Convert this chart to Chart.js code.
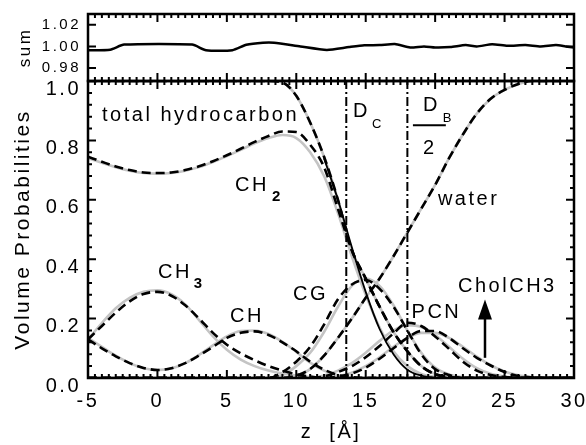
<!DOCTYPE html>
<html>
<head>
<meta charset="utf-8">
<script src="https://cdn.jsdelivr.net/npm/chart.js@4.4.1/dist/chart.umd.min.js"></script>
<style>
  html, body { margin: 0; padding: 0; background: #fff; }
  #wrap { position: relative; width: 586px; height: 445px; }
  #wrap canvas { position: absolute; left: 0; top: 0; }
</style>
</head>
<body>
<div id="wrap">
  <canvas id="sum_Chart" width="586" height="90"></canvas>
  <canvas id="prob_Chart" width="586" height="445"></canvas>
</div>
<script>
// z grid [Å], one value per curve at each z
const zGrid = [-5,-4,-3,-2,-1,0,1,2,3,4,5,6,7,8,9,10,11,12,13,14,15,16,17,18,19,20,21,22,23,24,25,26,27,28,29,30];

// simulation (dashed)
const totalHC = [1,1,1,1,1,1,1,1,1,1,1,1,1,1,0.995,0.95,0.86,0.745,0.6,0.43,0.335,0.24,0.155,0.09,0.04,0.013,0.003,0,0,0,0,0,0,0,0,0];
const ch2     = [0.745,0.728,0.712,0.70,0.692,0.69,0.692,0.70,0.713,0.73,0.75,0.772,0.795,0.815,0.83,0.828,0.785,0.71,0.57,0.43,0.335,0.24,0.155,0.09,0.04,0.013,0.003,0,0,0,0,0,0,0,0,0];
const ch3     = [0.13,0.175,0.22,0.258,0.283,0.29,0.277,0.245,0.2,0.152,0.112,0.083,0.06,0.04,0.025,0.012,0.005,0,0,0,0,0,0,0,0,0,0,0,0,0,0,0,0,0,0,0];
const ch      = [0.13,0.10,0.073,0.05,0.034,0.027,0.033,0.05,0.076,0.105,0.135,0.152,0.157,0.145,0.12,0.09,0.055,0.028,0.01,0.003,0,0,0,0,0,0,0,0,0,0,0,0,0,0,0,0];
const cg      = [0,0,0,0,0,0,0,0,0,0,0,0,0,0,0.02,0.055,0.105,0.18,0.265,0.315,0.33,0.30,0.24,0.16,0.08,0.03,0.01,0,0,0,0,0,0,0,0,0];
const water   = [0,0,0,0,0,0,0,0,0,0,0,0,0,0,0,0.008,0.03,0.075,0.135,0.2,0.27,0.335,0.41,0.49,0.57,0.65,0.74,0.82,0.89,0.94,0.97,0.99,1,1,1,1];
const pcn     = [0,0,0,0,0,0,0,0,0,0,0,0,0,0,0,0,0,0.005,0.02,0.04,0.07,0.108,0.15,0.186,0.175,0.14,0.098,0.055,0.025,0.01,0.003,0,0,0,0,0];
const cholCH3 = [0,0,0,0,0,0,0,0,0,0,0,0,0,0,0,0,0,0,0.005,0.015,0.035,0.065,0.1,0.135,0.158,0.158,0.135,0.1,0.068,0.042,0.02,0.007,0.002,0,0,0];

// model (grey solid) and hydrocarbon fit (thin black)
const ch3Fit  = [0.13,0.185,0.235,0.27,0.29,0.295,0.282,0.248,0.195,0.14,0.095,0.062,0.04,0.025,0.015,0.008,0.003,0,0,0,0,0,0,0,0,0,0,0,0,0,0,0,0,0,0,0];
const chFit   = [0.135,0.105,0.075,0.05,0.033,0.027,0.032,0.05,0.078,0.11,0.14,0.158,0.16,0.148,0.122,0.088,0.052,0.025,0.009,0.002,0,0,0,0,0,0,0,0,0,0,0,0,0,0,0,0];
const ch2Fit  = [0.74,0.725,0.71,0.698,0.69,0.688,0.69,0.698,0.71,0.727,0.747,0.768,0.79,0.808,0.818,0.808,0.76,0.68,0.555,0.41,0.28,0.17,0.09,0.04,0.014,0.004,0,0,0,0,0,0,0,0,0,0];
const cgFit   = [0,0,0,0,0,0,0,0,0,0,0,0,0,0,0.01,0.04,0.085,0.155,0.24,0.31,0.335,0.31,0.245,0.16,0.085,0.035,0.012,0.003,0,0,0,0,0,0,0,0];
const pcnFit  = [0,0,0,0,0,0,0,0,0,0,0,0,0,0,0,0,0,0.008,0.025,0.05,0.085,0.125,0.16,0.178,0.172,0.145,0.105,0.065,0.033,0.014,0.005,0.001,0,0,0,0];
const cholFit = [0,0,0,0,0,0,0,0,0,0,0,0,0,0,0,0,0,0,0.006,0.018,0.04,0.07,0.105,0.135,0.152,0.152,0.135,0.105,0.072,0.043,0.022,0.009,0.003,0,0,0];
const hcFit   = [null,null,null,null,null,null,null,null,null,null,null,null,null,null,null,null,null,0.74,0.6,0.44,0.29,0.165,0.08,0.028,0.008,0.001,0,0,null,null,null,null,null,null,null,null];

// boundaries D_C and D_B/2
const dcZ = 13.6;
const dbHalfZ = 18;

// sum panel
const sumZ   = [-5,-3.4,-2.4,2.5,3.5,5.4,6.4,7.6,8.4,10.3,12.2,13.8,14.9,16,17.1,18.2,19.2,20,21.1,22.2,23,24.1,25.2,26.5,27.6,28.7,29.4,30];
const sumVal = [0.9965,0.997,1.0017,1.0017,0.9965,0.9965,1.0015,1.0035,1.0035,1.0,0.9968,0.9994,1.001,1.0012,1.0022,0.999,1.0,0.999,0.9994,1.0012,1.0,1.002,1.0006,1.0012,1.0,1.0012,1.0,0.999];
const sumTicks = [0.98, 1.00, 1.02];

Chart.defaults.font.family = 'Arial, "Liberation Sans", sans-serif';
Chart.defaults.color = '#000';

const pts = arr => zGrid.map((z, i) => ({x: z, y: arr[i]}));
const SPACING = '2.5px';

// inside ticks on all four sides + frame
const insideTicks = {
    id: 'insideTicks',
    beforeUpdate(chart) { chart.ctx.letterSpacing = SPACING; },
    beforeDraw(chart) { chart.ctx.letterSpacing = SPACING; },
    afterDatasetsDraw(chart, args, opts) {
        const {ctx, chartArea: a, scales: {x, y}} = chart;
        ctx.save();
        ctx.strokeStyle = '#000';
        ctx.lineWidth = 2;
        ctx.beginPath();
        const nx = Math.round((x.max - x.min) / opts.xStep);
        for (let i = 0; i <= nx; i++) {
            const px = x.getPixelForValue(x.min + i * opts.xStep);
            const len = i % opts.xEvery === 0 ? 8 : 4;
            ctx.moveTo(px, a.top); ctx.lineTo(px, a.top + len);
            ctx.moveTo(px, a.bottom); ctx.lineTo(px, a.bottom - len);
        }
        for (let i = 0; i < opts.yCount; i++) {
            const py = y.getPixelForValue(opts.yFrom + i * opts.yStep);
            const len = i % opts.yEvery === 0 ? 8 : 4;
            ctx.moveTo(a.left, py); ctx.lineTo(a.left + len, py);
            ctx.moveTo(a.right, py); ctx.lineTo(a.right - len, py);
        }
        ctx.stroke();
        ctx.lineWidth = 2.5;
        ctx.strokeRect(a.left, a.top, a.right - a.left, a.bottom - a.top);
        ctx.restore();
    }
};

// text labels, boundary fraction and arrow
const annotations = {
    id: 'annotations',
    afterDraw(chart, args, opts) {
        const {ctx, scales: {x, y}} = chart;
        ctx.save();
        ctx.letterSpacing = SPACING;
        ctx.fillStyle = '#000';
        ctx.strokeStyle = '#000';
        ctx.textAlign = 'left';
        ctx.textBaseline = 'alphabetic';
        opts.labels.forEach(l => {
            const px = x.getPixelForValue(l.z);
            const py = y.getPixelForValue(l.v);
            ctx.font = '20px Arial, "Liberation Sans", sans-serif';
            ctx.fillText(l.text, px, py);
            if (l.sub) {
                const w = ctx.measureText(l.text).width;
                ctx.font = l.subFont;
                ctx.fillText(l.sub, px + w + l.subDx, py + l.subDy);
            }
        });
        // fraction bar of D_B / 2
        ctx.lineWidth = 2;
        ctx.beginPath();
        ctx.moveTo(x.getPixelForValue(opts.bar.z0), y.getPixelForValue(opts.bar.v));
        ctx.lineTo(x.getPixelForValue(opts.bar.z1), y.getPixelForValue(opts.bar.v));
        ctx.stroke();
        // arrow
        const ax = x.getPixelForValue(opts.arrow.z);
        const yBot = y.getPixelForValue(opts.arrow.v0);
        const yTip = y.getPixelForValue(opts.arrow.v1);
        ctx.lineWidth = 2.5;
        ctx.beginPath();
        ctx.moveTo(ax, yBot); ctx.lineTo(ax, yTip + 15);
        ctx.stroke();
        ctx.beginPath();
        ctx.moveTo(ax, yTip); ctx.lineTo(ax - 7, yTip + 20); ctx.lineTo(ax + 7, yTip + 20);
        ctx.closePath();
        ctx.fill();
        ctx.restore();
    }
};

// sum 패널
const ctxSum = document.getElementById('sum_Chart').getContext('2d');
new Chart(ctxSum, {
    type: 'line',
    data: {
        datasets: [{
            data: sumZ.map((z, i) => ({x: z, y: sumVal[i]})),
            borderColor: '#000',
            borderWidth: 2.5,
            pointRadius: 0,
            tension: 0.2,
        }]
    },
    options: {
        responsive: false,
        animation: false,
        devicePixelRatio: 1,
        layout: { padding: { top: 14, right: 12, bottom: 9, left: 0 } },
        plugins: {
            legend: { display: false },
            tooltip: { enabled: false },
            insideTicks: { xStep: 0.5, xEvery: 10, yFrom: 0.98, yStep: 0.02, yCount: 3, yEvery: 1 },
        },
        scales: {
            x: {
                type: 'linear', min: -5, max: 30,
                display: false,
            },
            y: {
                min: 0.968, max: 1.03,
                grid: { display: false, drawTicks: false },
                border: { display: false },
                afterBuildTicks: s => { s.ticks = sumTicks.map(v => ({value: v})); },
                afterFit: s => { s.width = 88; s.paddingTop = 0; s.paddingBottom = 0; },
                ticks: {
                    padding: 7,
                    font: { size: 15 },
                    callback: v => v.toFixed(2),
                },
                title: {
                    display: true,
                    text: 'sum',
                    font: { size: 17 },
                    padding: { top: 15, bottom: 0 },
                },
            },
        },
    },
    plugins: [insideTicks],
});

// Volume probability 패널
const ctxProb = document.getElementById('prob_Chart').getContext('2d');
const dashed = (arr) => ({
    data: pts(arr), borderColor: '#000', borderWidth: 2.6, borderDash: [9, 5],
    pointRadius: 0, cubicInterpolationMode: 'monotone', order: 1,
});
const grey = (arr) => ({
    data: pts(arr), borderColor: '#c4c4c4', borderWidth: 2.6,
    pointRadius: 0, cubicInterpolationMode: 'monotone', order: 3,
});
const vline = (z) => ({
    data: [{x: z, y: 0}, {x: z, y: 1}], borderColor: '#000', borderWidth: 2,
    borderDash: [9, 3, 2, 3], pointRadius: 0, order: 0,
});

new Chart(ctxProb, {
    type: 'line',
    data: {
        datasets: [
            grey(ch3Fit), grey(chFit), grey(ch2Fit), grey(cgFit), grey(pcnFit), grey(cholFit),
            grey(water), grey(totalHC),
            {
                data: pts(hcFit), borderColor: '#000', borderWidth: 1.8,
                pointRadius: 0, cubicInterpolationMode: 'monotone', order: 2,
            },
            dashed(totalHC), dashed(ch2), dashed(ch3), dashed(ch), dashed(cg),
            dashed(water), dashed(pcn), dashed(cholCH3),
            vline(dcZ), vline(dbHalfZ),
        ]
    },
    options: {
        responsive: false,
        animation: false,
        devicePixelRatio: 1,
        layout: { padding: { top: 81, right: 12, bottom: 0, left: 0 } },
        plugins: {
            legend: { display: false },
            tooltip: { enabled: false },
            insideTicks: { xStep: 0.5, xEvery: 10, yFrom: 0, yStep: 0.04, yCount: 26, yEvery: 5 },
            annotations: {
                labels: [
                    { text: 'total hydrocarbon', z: -3.99, v: 0.865 },
                    { text: 'CH', z: 5.59, v: 0.628, sub: '2', subFont: 'bold 15px Arial, sans-serif', subDx: 3, subDy: 10 },
                    { text: 'CH', z: 0.04, v: 0.338, sub: '3', subFont: 'bold 15px Arial, sans-serif', subDx: 2, subDy: 10 },
                    { text: 'CH', z: 5.23, v: 0.189 },
                    { text: 'CG', z: 9.76, v: 0.264 },
                    { text: 'D', z: 14.08, v: 0.878, sub: 'C', subFont: '13px Arial, sans-serif', subDx: 2, subDy: 11 },
                    { text: 'D', z: 19.12, v: 0.899, sub: 'B', subFont: '13px Arial, sans-serif', subDx: 3, subDy: 11 },
                    { text: '2', z: 19.12, v: 0.753 },
                    { text: 'water', z: 20.2, v: 0.584 },
                    { text: 'PCN', z: 18.3, v: 0.203 },
                    { text: 'CholCH3', z: 21.65, v: 0.29 },
                ],
                bar: { z0: 18.4, z1: 20.77, v: 0.851 },
                arrow: { z: 23.59, v0: 0.068, v1: 0.264 },
            },
        },
        scales: {
            x: {
                type: 'linear', min: -5, max: 30,
                grid: { display: false, drawTicks: false },
                border: { display: false },
                afterFit: s => { s.height = 67; s.paddingLeft = 0; s.paddingRight = 0; },
                ticks: {
                    stepSize: 5,
                    padding: 11,
                    autoSkip: false,
                    maxRotation: 0,
                    font: { size: 20 },
                },
                title: {
                    display: true,
                    text: 'z  [Å]',
                    font: { size: 20 },
                    padding: { top: 0, bottom: 1 },
                },
            },
            y: {
                min: 0, max: 1,
                grid: { display: false, drawTicks: false },
                border: { display: false },
                afterFit: s => { s.width = 88; s.paddingTop = 0; s.paddingBottom = 0; },
                ticks: {
                    stepSize: 0.2,
                    padding: 7,
                    labelOffset: 8,
                    font: { size: 20 },
                    callback: v => v.toFixed(1),
                },
                title: {
                    display: true,
                    text: 'Volume Probabilities',
                    font: { size: 21 },
                    padding: { top: 11, bottom: 0 },
                },
            },
        },
    },
    plugins: [insideTicks, annotations],
});
</script>
</body>
</html>
